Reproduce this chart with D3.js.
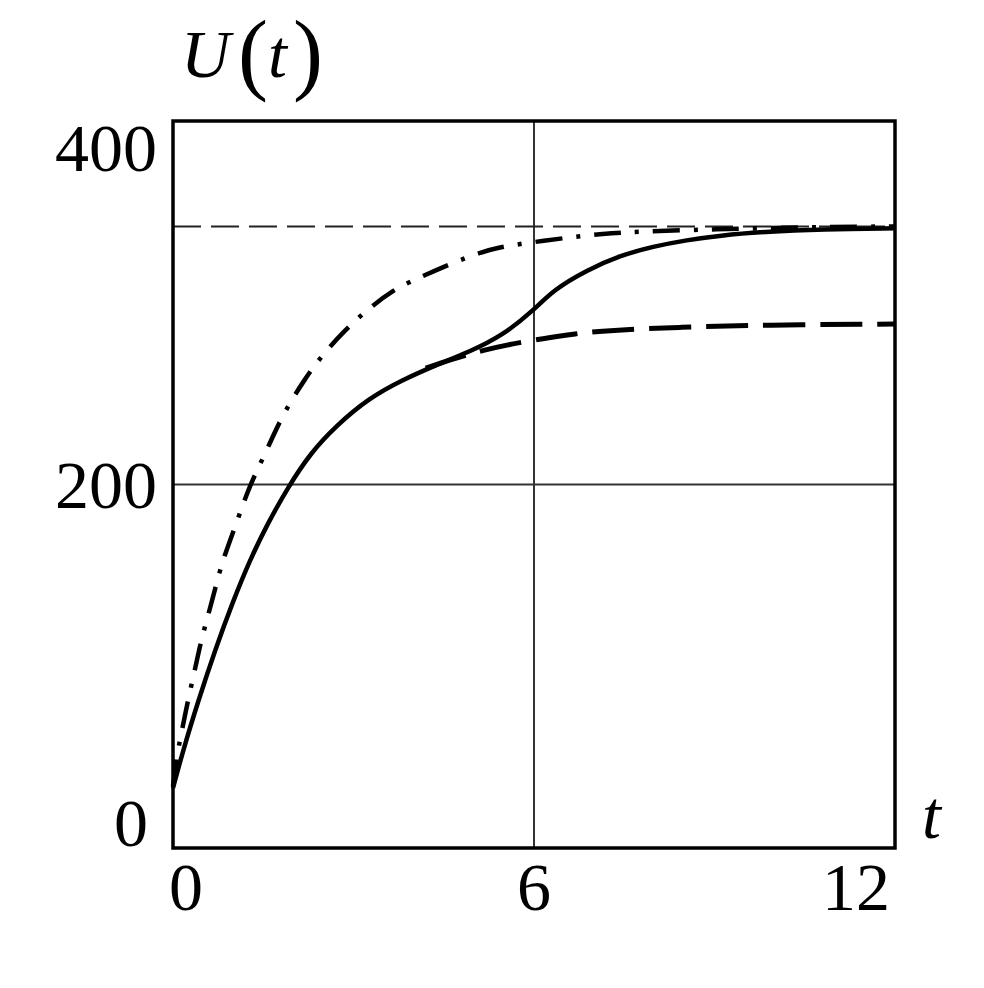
<!DOCTYPE html>
<html>
<head>
<meta charset="utf-8">
<script src="https://cdnjs.cloudflare.com/ajax/libs/d3/7.8.5/d3.min.js"></script>
<style>
  body { margin: 0; background: #fff; }
  text { font-family: "Liberation Serif", "Times New Roman", serif; fill: #000; }
</style>
</head>
<body>
<script>
// Width and Height of the whole picture
var width = 984;
var height = 988;

// tick labels
var xTicks = [0, 6, 12];
var yTicks = [0, 200, 400];

// solid curve
var solidT = [0, 0.17, 0.42, 0.70, 1.0, 1.28, 1.56, 1.92, 2.28, 2.7, 3.26, 3.81, 4.37, 4.93, 5.48, 6.0, 6.32, 6.88, 7.43, 7.98, 8.54, 9.09, 9.8, 10.8, 12];
var solidU = [33, 54, 81, 109, 136, 158.5, 177.7, 199, 217, 232, 247.6, 257.5, 265.7, 273, 282, 296, 307, 318, 326, 331, 334.5, 337, 339, 340.5, 341];

// long dashed curve (branches off the solid one)
var dashT = [4.2, 4.6, 5.15, 5.88, 6.6, 7.05, 8.43, 9.8, 12];
var dashU = [264, 268.5, 274, 279, 282.5, 284.5, 286.6, 287.8, 288.3];

// dash-dot curve
var dotT = [0, 0.06, 0.15, 0.26, 0.37, 0.48, 0.61, 0.78, 0.89, 1.11, 1.25, 1.4, 1.56, 1.83, 2.2, 2.5, 2.86, 3.22, 3.66, 4.0, 4.93, 5.42, 6.0, 6.6, 7.15, 7.65, 9.0, 10.5, 12];
var dotU = [34, 50, 65, 83, 99, 116, 131, 153, 164, 184, 197, 208, 219, 239, 258.6, 272, 285, 296, 307, 312.5, 326, 330.7, 333.4, 336, 338, 339, 340.5, 341.5, 342];

// horizontal asymptote
var asymT = [0, 12];
var asymU = [342, 342];

var svg = d3.select("body")
    .append("svg")
    .attr("width", width)
    .attr("height", height);

svg.append("rect")
    .attr("width", width)
    .attr("height", height)
    .attr("fill", "#fff");

var x = d3.scaleLinear().domain([0, 12]).range([173, 895]);
var y = d3.scaleLinear().domain([0, 400]).range([848, 121]);

// grid lines through the middle ticks
svg.append("line")
    .attr("x1", x(6)).attr("x2", x(6))
    .attr("y1", y(0)).attr("y2", y(400))
    .attr("stroke", "#333").attr("stroke-width", 2);
svg.append("line")
    .attr("x1", x(0)).attr("x2", x(12))
    .attr("y1", y(200)).attr("y2", y(200))
    .attr("stroke", "#333").attr("stroke-width", 2);

function zip(ts, us) {
  return ts.map(function(t, i) { return [t, us[i]]; });
}

// basis curve smooths out the reading noise
var line = d3.line()
    .x(function(d) { return x(d[0]); })
    .y(function(d) { return y(d[1]); })
    .curve(d3.curveBasis);

svg.append("path")
    .attr("d", line(zip(asymT, asymU)))
    .attr("fill", "none")
    .attr("stroke", "#222")
    .attr("stroke-width", 2)
    .attr("stroke-dasharray", "28,10");

svg.append("path")
    .attr("d", line(zip(dotT, dotU)))
    .attr("fill", "none")
    .attr("stroke", "#000")
    .attr("stroke-width", 4.5)
    .attr("stroke-dasharray", "27,14,4,14");

svg.append("path")
    .attr("d", line(zip(dashT, dashU)))
    .attr("fill", "none")
    .attr("stroke", "#000")
    .attr("stroke-width", 5)
    .attr("stroke-dasharray", "42,15");

svg.append("path")
    .attr("d", line(zip(solidT, solidU)))
    .attr("fill", "none")
    .attr("stroke", "#000")
    .attr("stroke-width", 4.5);

// frame
svg.append("rect")
    .attr("x", x(0)).attr("y", y(400))
    .attr("width", x(12) - x(0))
    .attr("height", y(0) - y(400))
    .attr("fill", "none")
    .attr("stroke", "#000")
    .attr("stroke-width", 3.5);

// x tick labels, end ones pulled inside
svg.selectAll(".xlab")
    .data(xTicks)
    .enter()
    .append("text")
    .attr("class", "xlab")
    .attr("x", function(d, i) { return i == 0 ? x(d) - 4 : (i == xTicks.length - 1 ? x(d) - 5 : x(d)); })
    .attr("y", 910)
    .attr("text-anchor", function(d, i) { return i == 0 ? "start" : (i == xTicks.length - 1 ? "end" : "middle"); })
    .attr("font-size", 68)
    .text(function(d) { return d; });

// y tick labels
svg.selectAll(".ylab")
    .data(yTicks)
    .enter()
    .append("text")
    .attr("class", "ylab")
    .attr("x", function(d, i) { return i == 0 ? 148 : 157; })
    .attr("y", function(d, i) { return i == 0 ? y(d) - 2 : (i == yTicks.length - 1 ? y(d) + 50 : y(d) + 23); })
    .attr("text-anchor", "end")
    .attr("font-size", 68)
    .text(function(d) { return d; });

// axis names
var ylab = svg.append("text")
    .attr("x", 181).attr("y", 77)
    .attr("font-size", 68);
ylab.append("tspan").attr("font-style", "italic").text("U");
ylab.append("tspan").attr("dx", 8).attr("dy", 6).attr("font-size", 90).attr("font-weight", 300).text("(");
ylab.append("tspan").attr("dy", -6).attr("font-style", "italic").text("t");
ylab.append("tspan").attr("dx", 6).attr("dy", 6).attr("font-size", 90).text(")");

svg.append("text")
    .attr("x", 922).attr("y", 838)
    .attr("font-size", 68)
    .attr("font-style", "italic")
    .text("t");
</script>
</body>
</html>
